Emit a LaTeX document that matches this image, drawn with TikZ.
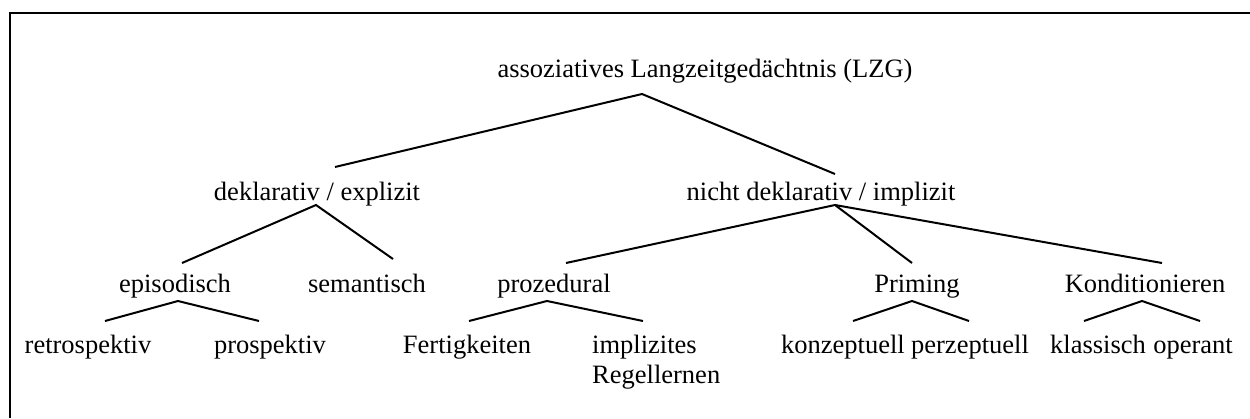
\documentclass[tikz,border=0pt]{standalone}
\usepackage{fontspec}
\setmainfont{Liberation Serif}
\usetikzlibrary{calc}
\begin{document}
\begin{tikzpicture}[x=1pt,y=-1pt,
  lbl/.style={inner sep=0pt,anchor=base,font=\fontsize{26.5}{30}\selectfont},
  lblw/.style={lbl,anchor=base west},
  conn/.style={line width=2pt},
  frame/.style={line width=2.6pt}]
\useasboundingbox (0,0) rectangle (1250,418);
\draw[frame] (10,418) -- (10,13) -- (1250,13);
% nodes
\node[lbl] (root) at (705,77) {assoziatives Langzeitgedächtnis (LZG)};
\node[lbl] (dek) at (317,200) {deklarativ / explizit};
\node[lbl] (nicht) at (821,200) {nicht deklarativ / implizit};
\node[lbl] (epi) at (175,292) {episodisch};
\node[lbl] (sem) at (367,292) {semantisch};
\node[lbl] (proz) at (554,292) {prozedural};
\node[lbl] (prim) at (917,292) {Priming};
\node[lbl] (kond) at (1145,292) {Konditionieren};
\node[lbl] (retro) at (88,353) {retrospektiv};
\node[lbl] (pros) at (270,353) {prospektiv};
\node[lbl] (fert) at (467,353) {Fertigkeiten};
\node[lblw] (impl) at (592,353) {implizites};
\node[lblw] (regel) at (592,383) {Regellernen};
\node[lbl] (konz) at (843,353) {konzeptuell};
\node[lbl] (perz) at (970,353) {perzeptuell};
\node[lbl] (klass) at (1098,353) {klassisch};
\node[lbl] (oper) at (1193,353) {operant};
% connectors
\draw[conn] ($(dek.base)+(18,-33)$) -- ($(root.base)+(-63,17)$) -- ($(nicht.base)+(14,-26)$);
\draw[conn] ($(epi.base)+(7,-29)$) -- ($(dek.base)+(-1,5)$) -- ($(sem.base)+(26,-33)$);
\draw[conn] ($(proz.base)+(12,-29)$) -- ($(nicht.base)+(14,5)$) -- ($(prim.base)+(-5,-29)$);
\draw[conn] ($(nicht.base)+(14,5)$) -- ($(kond.base)+(17,-29)$);
\draw[conn] ($(retro.base)+(17,-32)$) -- ($(epi.base)+(3,9)$) -- ($(pros.base)+(-11,-32)$);
\draw[conn] ($(fert.base)+(2,-32)$) -- ($(proz.base)+(-7,9)$) -- ($(impl.base west)+(51,-32)$);
\draw[conn] ($(konz.base)+(10,-32)$) -- ($(prim.base)+(-5,9)$) -- ($(perz.base)+(-1,-32)$);
\draw[conn] ($(klass.base)+(-14,-32)$) -- ($(kond.base)+(-3,9)$) -- ($(oper.base)+(7,-32)$);
\end{tikzpicture}
\end{document}
